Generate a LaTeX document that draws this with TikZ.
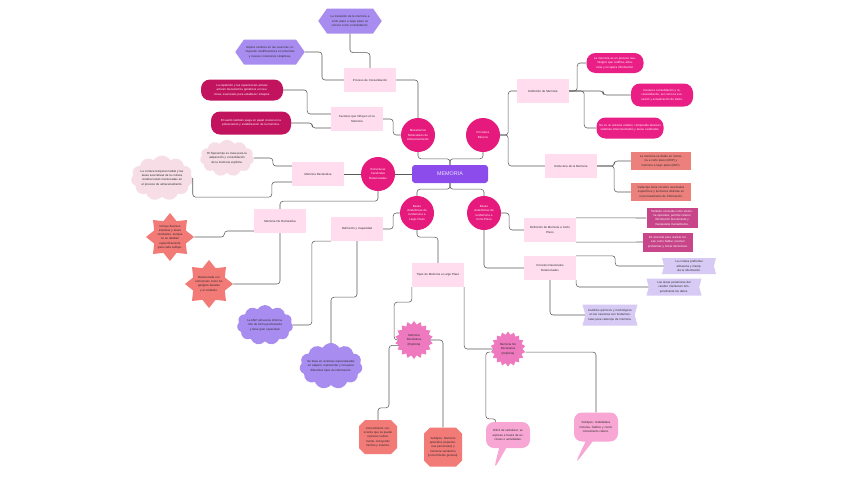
\documentclass[tikz,border=0pt]{standalone}
\usepackage{fontspec}
\setmainfont{Liberation Sans}
\usepackage{tikz}
\usetikzlibrary{positioning,shapes.geometric,shapes.symbols,shapes.misc,
                shapes.callouts,calc}
\definecolor{ink}       {HTML}{2B2B2B}
\definecolor{wire}      {HTML}{595959}
\definecolor{blush}     {HTML}{FFDDEF}
\definecolor{hubpink}   {HTML}{E6197C}
\definecolor{rootviolet}{HTML}{8C4CEB}
\definecolor{lilac}     {HTML}{A98CEF}
\definecolor{berry}     {HTML}{C2135E}
\definecolor{rose}      {HTML}{EA1F86}
\definecolor{coralbg}   {HTML}{EC807C}
\definecolor{plum}      {HTML}{C94589}
\definecolor{lavender}  {HTML}{D7CAF5}
\definecolor{mist}      {HTML}{F6DDE6}
\definecolor{redstar}   {HTML}{F27A77}
\definecolor{orchid}    {HTML}{EE79BF}
\definecolor{bubblebg}  {HTML}{F8A6D3}
\newcommand\leaffont{\fontsize{2.9}{4.3}\selectfont}
\tikzset{
  every node/.style={font=\leaffont, text=ink, align=center},
  % --- nodes
  topic/.style   = {rectangle, fill=blush, minimum width=52pt, minimum height=24pt,
                    text width=50pt, inner sep=1pt},
  hub/.style     = {circle, fill=hubpink, text=white, minimum size=34pt,
                    inner sep=0pt, text width=30pt},
  root/.style    = {rounded corners=3pt, fill=rootviolet, text=white!85!rootviolet,
                    minimum width=76pt, minimum height=18pt,
                    font=\fontsize{5.4}{6}\selectfont},
  hexa/.style    = {signal, signal to=west and east, signal pointer angle=110,
                    fill=lilac, minimum height=25pt, inner xsep=1pt, inner ysep=0pt},
  pill/.style    = {rounded corners=9pt, minimum height=21pt, inner xsep=2pt,
                    inner ysep=1pt, text=white},
  darkpill/.style= {pill, fill=berry},
  pinkpill/.style= {pill, fill=rose},
  coralbox/.style= {rectangle, fill=coralbg, minimum width=60pt, minimum height=18pt,
                    inner sep=1pt},
  plumbox/.style = {rectangle, fill=plum, text=white, minimum height=20pt, inner sep=1pt},
  ribbon/.style  = {signal, signal to=nowhere, signal from=west and east,
                    signal pointer angle=150, fill=lavender, inner xsep=1pt, inner ysep=1pt},
  puff/.style    = {cloud, cloud puffs=11, cloud puff arc=120, aspect=1.6,
                    inner xsep=-7pt, inner ysep=-3pt},
  mistcloud/.style = {puff, fill=mist},
  lilaccloud/.style= {puff, fill=lilac},
  spark/.style   = {star, star points=8, star point ratio=1.4, fill=redstar,
                    minimum size=48pt, inner sep=-6pt, text width=30pt},
  burst/.style   = {star, star points=18, star point ratio=1.22, fill=orchid,
                    minimum size=38pt, inner sep=-2pt, text width=22pt},
  octa/.style    = {chamfered rectangle, chamfered rectangle xsep=3pt,
                    chamfered rectangle ysep=3pt, fill=redstar, inner xsep=0pt,
                    inner ysep=1pt, text width=32pt},
  speech/.style  = {rectangle callout, rounded corners=8pt, fill=bubblebg, inner sep=2pt,
                    text width=40pt},
  % --- edges
  e/.style       = {draw=wire, line width=0.55pt, rounded corners=3pt},
}
\begin{document}
\begin{tikzpicture}[x=1pt, y=-1pt]
  \fill[white] (0,0) rectangle (848,477);
  \useasboundingbox (0,0) rectangle (848,477);

  % centre and hubs
  \node[root] (mem) at (450,174) {MEMORIA};
  \node[hub] (mec) at (418,135) {Mecanismos\\Moleculares de\\Almacenamiento};
  \node[hub] (pri) at (483,135) {Principios\\Básicos};
  \node[hub] (ecr) at (378,174) {Estructuras\\Cerebrales\\Relacionadas};
  \node[hub] (blp) at (417,213) {Bases\\Anatómicas de\\la Memoria a\\Largo Plazo};
  \node[hub] (bcp) at (484,213) {Bases\\Anatómicas de\\la Memoria a\\Corto Plazo};

  % molecular mechanisms
  \node[topic] (cons) at (370,80) {Proceso de Consolidación};
  \node[topic] (fact) at (357,119) {Factores que Influyen en la\\Memoria};
  \node[hexa, text width=44pt] (trans) at (350,21) {La transición de la memoria a corto plazo a largo plazo se conoce como consolidación.};
  \node[hexa, text width=50pt] (camb) at (270,52) {Implica cambios en las neuronas, incluyendo modificaciones en proteínas y nuevas conexiones sinápticas.};
  \node[darkpill, text width=78pt] (rep) at (242,90) {La repetición y las experiencias activas activan mecanismos genéticos en neuronas, esenciales para establecer sinapsis.};
  \node[darkpill, text width=76pt, minimum height=23pt] (sueno) at (251,123) {El sueño también juega un papel crucial en la potenciación y estabilización de la memoria.};

  % basic principles
  \node[topic] (defm) at (543,91) {Definición de Memoria};
  \node[topic] (estm) at (571,166) {Estructura de la Memoria};
  \node[pinkpill, text width=53pt, minimum height=20pt] (proc) at (615,63) {La memoria es un proceso neurológico que codifica, almacena y recupera información.};
  \node[pinkpill, text width=58pt, minimum height=23pt] (invo) at (662,95) {Involucra consolidación y reconsolidación, así como la evocación y actualización de datos.};
  \node[pinkpill, text width=63pt] (unit) at (630,128) {No es un sistema unitario; comprende diversos sistemas interconectados y áreas cerebrales.};
  \node[coralbox, text width=55pt] (divi) at (661,161) {La memoria se divide en memoria a corto plazo (MCP) y memoria a largo plazo (MLP).};
  \node[coralbox, text width=58pt] (tipo) at (661,192) {Cada tipo tiene circuitos neuronales específicos y funciones distintas en el procesamiento de información.};

  % brain structures
  \node[topic] (mdec) at (318,174) {Memoria Declarativa};
  \node[topic] (mnd) at (280,221) {Memoria No Declarativa};
  \node[mistcloud, text width=48pt, minimum width=54pt, minimum height=35pt] (hipo) at (227,158) {El hipocampo es clave para la adquisición y consolidación de la memoria explícita.};
  \node[mistcloud, text width=52pt, minimum width=62pt, minimum height=45pt] (cort) at (162,178) {La corteza temporal medial y las áreas asociativas de la corteza cerebral están involucradas en el proceso de almacenamiento.};
  \node[spark] (incl) at (170,237) {Incluye diversos sistemas y áreas cerebrales, aunque no se detallan específicamente para cada subtipo.};
  \node[spark] (gang) at (209,284) {Relacionada con estructuras como los ganglios basales y el cerebelo.};

  % long-term memory
  \node[topic] (dyc) at (357,229) {Definición y Capacidad};
  \node[topic] (tml) at (438,275) {Tipos de Memoria a Largo Plazo};
  \node[lilaccloud, text width=48pt, minimum width=56pt, minimum height=40pt] (perm) at (265,325) {La MLP almacena información de forma permanente y tiene gran capacidad.};
  \node[lilaccloud, text width=52pt, minimum width=63pt, minimum height=46pt] (sist) at (331,366) {Se basa en sistemas especializados en adquirir, representar y recuperar diferentes tipos de información.};
  \node[burst] (expl) at (414,340) {Memoria Declarativa (Explícita)};
  \node[burst, minimum size=35pt] (impl) at (508,349) {Memoria No Declarativa (Implícita)};
  \node[octa, minimum height=34pt] (conc) at (378,437) {Conocimiento consciente que se puede expresar verbalmente, incluyendo hechos y eventos.};
  \node[octa, minimum height=39pt] (epis) at (443,447) {Subtipos: Memoria episódica (experiencias personales) y memoria semántica (conocimiento general).};
  \node[speech, minimum height=26pt, callout relative pointer={(-9pt,-22pt)}] (verb) at (508,435) {Difícil de verbalizar; se expresa a través de acciones o actividades.};
  \node[speech, minimum height=29pt, callout relative pointer={(-13pt,-23pt)}] (habi) at (596,427) {Subtipos: Habilidades motoras, hábitos y condicionamiento clásico.};

  % short-term memory
  \node[topic] (dcp) at (550,230) {Definición de Memoria a Corto\\Plazo};
  \node[topic] (cir) at (550,268) {Circuitos Neuronales\\Relacionados};
  \node[plumbox, text width=49pt] (oper) at (672,218) {También conocida como memoria operativa, permite retener información brevemente y manipularla mentalmente.};
  \node[plumbox, text width=48pt, minimum height=19pt] (esen) at (668,242) {Es esencial para realizar tareas como hablar, resolver problemas y tomar decisiones.};
  \node[ribbon, text width=38pt, minimum width=54pt, minimum height=16pt] (pref) at (689,266) {La corteza prefrontal almacena y manipula la información.};
  \node[ribbon, text width=40pt, minimum width=55pt, minimum height=17pt] (post) at (674,287) {Las áreas posteriores del cerebro mantienen temporalmente los datos.};
  \node[ribbon, text width=44pt, minimum width=55pt, minimum height=21pt] (quim) at (610,315) {Cambios químicos y morfológicos en las neuronas son fundamentales para cada tipo de memoria.};

  % connectors
  \foreach \h in {mec,pri} \draw[e] (mem.north) -- ++(0,-6) -| (\h.south);
  \foreach \h in {blp,bcp} \draw[e] (mem.south) -- ++(0,6) -| (\h.north);
  \draw[e] (mem.west) -- (ecr.east);

  \draw[e] (trans.south) -- ++(0,19) -| (cons.north);
  \draw[e] (camb.east) -- ++(17,0) |- (cons.west);
  \draw[e] (cons.east) -| (mec.north);
  \draw[e] (rep.east) -- ++(24,0) |- ($(fact.west)+(0,-5)$);
  \draw[e] (sueno.east) -- ++(21,0) |- ($(fact.west)+(0,9)$);
  \draw[e] (fact.east) -- ++(10,0) |- (mec.west);

  \draw[e] (pri.east) -- ++(8,0) |- (defm.west);
  \draw[e] (pri.east) -- ++(8,0) |- (estm.west);
  \draw[e] (defm.east) -- ++(8,0) |- (proc.west);
  \draw[e] (defm.east) -- ++(34,0) |- (invo.west);
  \draw[e] (defm.east) -- ++(15,0) |- (unit.west);
  \foreach \b in {divi,tipo} \draw[e] (estm.east) -- ++(17,0) |- (\b.west);

  \draw[e] (ecr.west) -- (mdec.east);
  \draw[e] (ecr.south) -- ++(0,10) -| (mnd.north);
  \draw[e] (hipo.east) -- ++(19,0) |- ($(mdec.west)+(0,-8)$);
  \draw[e] (cort.east) |- ($(mdec.south west)+(-20,11)$) |- ($(mdec.west)+(0,8)$);
  \draw[e] (incl.east) -- ++(30,0) |- ($(mnd.west)+(0,10)$);
  \draw[e] (mnd.south) |- (gang.east);

  \draw[e] (dyc.east) -- ++(10,0) |- (blp.west);
  \draw[e] (dyc.south west) -- ++(-19,0) |- (perm.east);
  \draw[e] (dyc.south) -- ++(0,56) -| (sist.north);
  \draw[e] (blp.south) -- ++(0,7) -| (tml.north);
  \draw[e] (tml.south west) -- ++(0,15) -| ($(expl.west)+(-4,0)$) -- (expl.west);
  \draw[e] (tml.south east) |- (impl.west);
  \draw[e] (expl.200) -| ($(conc.north)+(11,-12)$) -| (conc.north);
  \draw[e] (expl.east) -| (epis.north);
  \draw[e] (impl.190) -| ($(verb.north west)+(0,-3)$) -| ($(verb.north west)+(10,0)$);
  \draw[e] (impl.-10) -| (habi.north);

  \draw[e] (bcp.east) -- ++(8,0) |- (dcp.west);
  \draw[e] (bcp.south) |- (cir.west);
  \draw[e] (dcp.north east) -- (oper.west);
  \draw[e] (dcp.south east) -- (esen.west);
  \draw[e] (cir.north east) -- ++(39,0) |- (pref.west);
  \draw[e] (cir.south east) |- (post.west);
  \draw[e] (cir.south) |- (quim.west);
\end{tikzpicture}
\end{document}
